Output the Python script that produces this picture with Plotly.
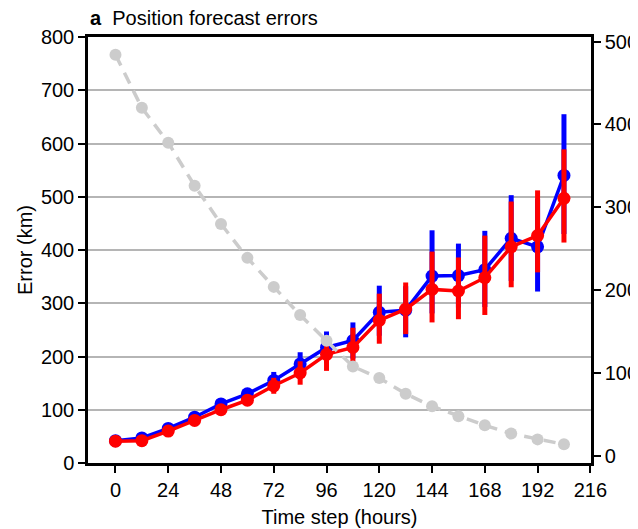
import plotly.graph_objects as go

# forecast lead time (hours)
hours = [0, 12, 24, 36, 48, 60, 72, 84, 96, 108, 120, 132, 144, 156, 168, 180, 192, 204]

# position errors (km), left axis
blue_err = [42, 47, 65, 86, 111, 130, 155, 186, 217, 230, 283, 287, 351, 352, 363, 422, 406, 540]
blue_plus = [3, 4, 5, 6, 7, 10, 16, 22, 30, 34, 50, 45, 86, 60, 73, 81, 90, 115]
blue_minus = [3, 4, 5, 6, 7, 10, 16, 22, 30, 34, 44, 51, 70, 60, 70, 80, 84, 110]

red_err = [41, 42, 60, 80, 100, 118, 145, 169, 204, 217, 268, 289, 326, 323, 348, 406, 427, 497]
red_plus = [3, 4, 5, 6, 7, 10, 15, 22, 25, 37, 50, 50, 71, 63, 79, 85, 85, 92]
red_minus = [3, 4, 5, 6, 7, 10, 15, 22, 31, 28, 44, 47, 62, 53, 70, 76, 69, 83]

# number of cases, right axis
counts = [484, 420, 378, 326, 280, 239, 204, 170, 139, 108, 94, 75, 60, 48, 37, 27, 20, 14]

x_ticks = [0, 24, 48, 72, 96, 120, 144, 168, 192, 216]

FONT = "Liberation Sans, Arial, Helvetica, sans-serif"
BLUE = "#0000ff"
RED = "#ff0000"
GREY = "#cccccc"

fig = go.Figure()

fig.add_trace(go.Scatter(
    x=hours, y=blue_err, mode="lines+markers",
    line=dict(color=BLUE, width=3.5),
    marker=dict(color=BLUE, size=13),
    error_y=dict(type="data", symmetric=False, array=blue_plus, arrayminus=blue_minus,
                 color=BLUE, thickness=5, width=0),
    showlegend=False,
))
fig.add_trace(go.Scatter(
    x=hours, y=red_err, mode="lines+markers",
    line=dict(color=RED, width=3.5),
    marker=dict(color=RED, size=13),
    error_y=dict(type="data", symmetric=False, array=red_plus, arrayminus=red_minus,
                 color=RED, thickness=5, width=0),
    showlegend=False,
))
fig.add_trace(go.Scatter(
    x=hours, y=counts, yaxis="y2", mode="lines+markers",
    line=dict(color=GREY, width=3.5, dash="12px,8px"),
    marker=dict(color=GREY, size=12),
    showlegend=False,
))

axis_common = dict(
    showline=True, linecolor="black", linewidth=2.5,
    ticks="outside", ticklen=7, tickwidth=2, tickcolor="black",
    tickfont=dict(family=FONT, size=20, color="black"),
    zeroline=False, automargin=False,
)

# the page body adds an 8px margin, so the figure is 8px smaller and shifted
fig.update_layout(
    width=630, height=521,
    margin=dict(l=80, r=47, t=29, b=66, autoexpand=False),
    plot_bgcolor="white", paper_bgcolor="white",
    font=dict(family=FONT, color="black"),
    xaxis=dict(
        **axis_common, range=[-12.5, 216.3], tickvals=x_ticks, showgrid=False, mirror=True,
        title=dict(text="Time step (hours)", font=dict(family=FONT, size=20), standoff=11),
    ),
    yaxis=dict(
        **axis_common, range=[0, 800], tickvals=[0, 100, 200, 300, 400, 500, 600, 700, 800],
        showgrid=True, gridcolor="#b5b5b5", gridwidth=1.5,
        title=dict(text="Error (km)", font=dict(family=FONT, size=20), standoff=3),
    ),
    yaxis2=dict(
        **axis_common, overlaying="y", side="right", range=[-8.5, 505.5],
        tickvals=[0, 100, 200, 300, 400, 500], showgrid=False,
    ),
    annotations=[dict(
        text="<b>a</b>  Position forecast errors", xref="paper", yref="paper",
        x=0.0, y=1.045, xanchor="left", yanchor="middle", showarrow=False,
        font=dict(family=FONT, size=20, color="black"),
    )],
)

fig.write_html("out.html")
